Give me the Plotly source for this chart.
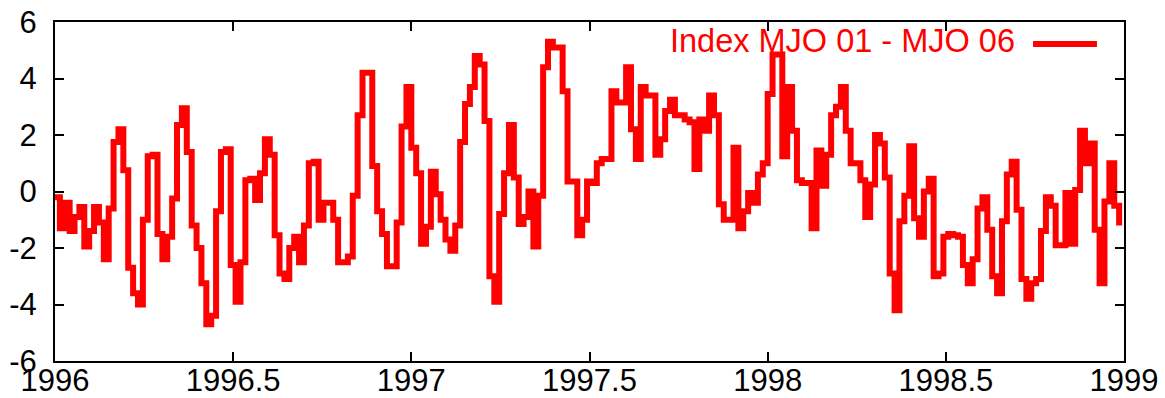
import numpy as np
import plotly.graph_objects as go

# pentad index values, 1996-01 .. 1998-12 (73 pentads per year)
mjo_index = [
    -0.2, -1.3, -0.4, -1.4, -0.9, -0.55, -1.95, -1.4, -0.55, -1.1,
    -2.4, -0.6, 1.75, 2.2, 0.75, -2.7, -3.6, -4.0, -1.0, 1.25,
    1.3, -1.5, -2.4, -1.6, -0.25, 2.35, 2.95, 1.4, -1.2, -2.0,
    -3.25, -4.7, -4.4, -0.7, 1.4, 1.5, -2.6, -3.9, -2.5, 0.4,
    0.45, -0.3, 0.65, 1.85, 1.3, -1.55, -2.9, -3.1, -2.0, -1.6,
    -2.5, -1.2, 1.0, 1.05, -1.0, -0.4, -0.4, -1.0, -2.5, -2.5,
    -2.3, -0.15, 2.7, 4.2, 4.2, 0.9, -0.7, -1.5, -2.65, -2.65,
    -1.1, 2.3, 3.7, 1.55, 0.65, -1.85, -1.25, 0.7, -0.1, -1.0,
    -1.7, -2.1, -1.2, 1.75, 3.1, 3.7, 4.8, 4.5, 2.5, -3.0,
    -3.9, -0.8, 0.65, 2.35, 0.5, -1.15, -0.9, 0.0, -1.95, -0.15,
    4.4, 5.3, 5.1, 5.1, 3.55, 0.35, 0.35, -1.55, -1.0, 0.35,
    0.3, 1.0, 1.15, 1.15, 3.55, 3.15, 3.15, 4.4, 2.2, 1.15,
    3.7, 3.4, 3.4, 1.3, 1.85, 2.85, 3.25, 2.7, 2.7, 2.55,
    2.45, 0.8, 2.55, 2.15, 3.4, 2.7, -0.45, -1.0, -1.0, 1.55,
    -1.3, -0.7, -0.05, -0.4, 0.6, 1.0, 3.45, 4.85, 4.85, 1.25,
    3.7, 2.15, 0.4, 0.3, 0.3, -1.3, 1.45, 0.2, 1.3, 2.7,
    3.0, 3.7, 2.15, 1.0, 1.0, 0.4, -0.9, 0.25, 2.0, 1.7,
    0.5, -2.9, -4.2, -1.05, -0.15, 1.6, -0.95, -1.6, 0.0, 0.45,
    -3.0, -2.9, -1.6, -1.5, -1.55, -1.6, -2.6, -3.25, -2.4, -0.6,
    -0.2, -1.35, -3.0, -3.6, -1.05, 0.6, 1.05, -0.65, -3.1, -3.8,
    -3.25, -3.1, -1.4, -0.2, -0.5, -1.9, -1.9, -0.05, -1.85, 0.05,
    2.15, 1.0, 1.7, -1.35, -3.25, -0.35, 1.0, -0.5, -1.2,
]
start_year = 1996
pentads_per_year = 73
x_ticks = [1996, 1996.5, 1997, 1997.5, 1998, 1998.5, 1999]
x_ticktext = ["1996", "1996.5", "1997", "1997.5", "1998", "1998.5", "1999"]
y_ticks = [-6, -4, -2, 0, 2, 4, 6]
y_ticktext = ["-6", "-4", "-2", "0", "2", "4", "6"]
series_name = "Index MJO 01 - MJO 06"

years = start_year + np.arange(len(mjo_index)) / pentads_per_year

RED = "#ff0000"
FONT = "Liberation Sans, Arial, sans-serif"

fig = go.Figure()
fig.add_trace(go.Scatter(
    x=years, y=mjo_index, mode="lines",
    line=dict(color=RED, width=6, shape="hv"),
    name=series_name, showlegend=False,
))

axis_common = dict(
    showline=True, linecolor="black", linewidth=2, mirror="ticks",
    ticks="inside", ticklen=9, tickwidth=2, tickcolor="black",
    showgrid=False, zeroline=False, automargin=False,
    tickfont=dict(family=FONT, size=31, color="black"),
)
fig.update_xaxes(range=[1996, 1999], tickvals=x_ticks, ticktext=x_ticktext,
                 ticklabelstandoff=-9, **axis_common)
fig.update_yaxes(range=[-6, 6], tickvals=y_ticks, ticktext=y_ticktext,
                 ticklabelstandoff=10, **axis_common)

# gnuplot-style key: text then line sample, top-right inside the frame
fig.add_annotation(
    x=0.8999, y=0.945, xref="paper", yref="paper",
    xanchor="right", yanchor="middle", showarrow=False,
    text=series_name, font=dict(family=FONT, size=32.5, color=RED),
)
fig.add_shape(type="line", xref="paper", yref="paper",
              x0=0.9149, x1=0.9747, y0=0.935, y1=0.935,
              line=dict(color=RED, width=6))

fig.update_layout(
    width=1165, height=398,
    margin=dict(l=55, r=41, t=22, b=37),
    paper_bgcolor="white", plot_bgcolor="white",
)

fig.write_html("out.html")
